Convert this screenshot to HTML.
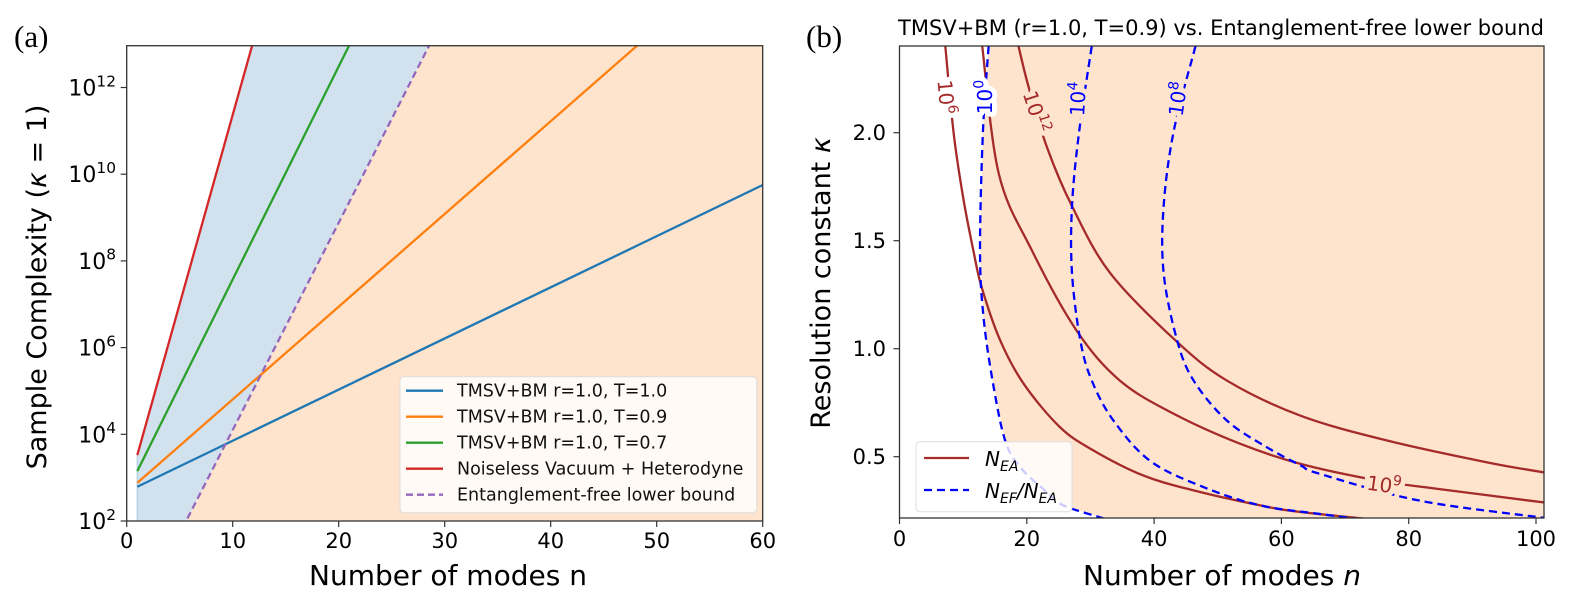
<!DOCTYPE html>
<html><head><meta charset="utf-8"><style>
html,body{margin:0;padding:0;background:#fff;overflow:hidden;width:1579px;height:614px}
svg{display:block;position:absolute;left:0;top:0}
svg text{font-family:"DejaVu Sans","Liberation Sans",sans-serif}
</style></head><body>
<svg id="fig" width="1579" height="614" viewBox="0 0 1579 614" xmlns="http://www.w3.org/2000/svg">
<defs>
<clipPath id="clipA"><rect x="126.7" y="45.7" width="636" height="475.3"/></clipPath>
<clipPath id="clipB"><rect x="899.5" y="46" width="644.5" height="472"/></clipPath>
</defs>
<g id="panelA"></g>
<g id="panelB"></g>
</svg>
<script>
// ---------- Panel (a) data ----------
const aXTicks = [0,10,20,30,40,50,60];
const aYTicks = [2,4,6,8,10,12];
const blueN = [1,60];        const blueLog = [2.79,9.75];
const orangeN = [1,60];      const orangeLog = [2.88,15.5];
const greenN = [1,30];       const greenLog = [3.15,17.4];
const redN = [1,16];         const redLog = [3.52,16.6];
const purpleN = [1,10,20,30]; const purpleLog = [-0.2,4.10,8.88,13.67];
const legendA = ["TMSV+BM r=1.0, T=1.0","TMSV+BM r=1.0, T=0.9","TMSV+BM r=1.0, T=0.7","Noiseless Vacuum + Heterodyne","Entanglement-free lower bound"];

// ---------- Panel (b) data ----------
const bXTicks = [0,20,40,60,80,100];
const bYTicks = [0.5,1.0,1.5,2.0];
const nea6N = [7.2,8.5,10.0,11.6,12.9,15.8,19.5,25.2,30.4,38.3,46.2,56.6,63.0,77.6];
const nea6K = [2.4,2.0,1.7,1.455,1.285,1.04,0.838,0.637,0.53,0.413,0.344,0.275,0.244,0.2];
const nea9N = [13.0,15.6,20.8,27.8,34.6,43.0,53.5,63.0,75.1,83.8,101.3];
const nea9K = [2.4,1.81,1.455,1.085,0.853,0.70,0.56,0.467,0.39,0.354,0.288];
const nea12N = [18.7,20.3,23.2,27.1,33.1,43.3,51.4,63.0,76.6,92.3,101.3];
const nea12K = [2.4,2.21,1.93,1.66,1.35,1.04,0.853,0.69,0.575,0.474,0.427];
const r0N = [14.0,13.1,12.65,13.2,14.7,16.6,19.0,23.0,25.7,32.0];
const r0K = [2.4,2.0,1.455,1.146,0.838,0.575,0.45,0.34,0.275,0.215];
const r4N = [30.2,28.2,27.1,27.1,28.4,30.2,33.6,39.4,47.7,56.6,66.0,78.0];
const r4K = [2.4,2.0,1.66,1.35,1.04,0.853,0.668,0.48,0.36,0.275,0.235,0.19];
const r8N = [46.5,43.1,41.5,41.5,43.6,46.2,51.4,57.7,63.0,66.1,81.8,101.3];
const r8K = [2.4,2.01,1.66,1.35,1.04,0.853,0.668,0.544,0.46,0.42,0.296,0.217];

const NS="http://www.w3.org/2000/svg";
function mk(parent,tag,attrs,text){const e=document.createElementNS(NS,tag);for(const k in attrs)e.setAttribute(k,attrs[k]);if(text!==undefined)e.textContent=text;parent.appendChild(e);return e;}

const ax=n=>126.7+n*10.6, ay=l=>521-(l-2)*43.35;
const bx=n=>899.5+n*6.365, by=k=>348.7-(k-1.0)*216;

function smooth(pts){ // uniform catmull-rom
  let d=`M${pts[0][0]},${pts[0][1]}`;
  for(let i=0;i<pts.length-1;i++){
    const p1=pts[i],p2=pts[i+1];
    const p0=pts[i-1]||p1, p3=pts[i+2]||p2;
    const c1=[p1[0]+(p2[0]-p0[0])/6,p1[1]+(p2[1]-p0[1])/6];
    const c2=[p2[0]-(p3[0]-p1[0])/6,p2[1]-(p3[1]-p1[1])/6];
    d+=` C${c1[0]},${c1[1]} ${c2[0]},${c2[1]} ${p2[0]},${p2[1]}`;
  }
  return d;
}
function sup(parent,x,y,base,exp,size,anchor,fill,extra){
  const t=mk(parent,'text',Object.assign({x:x,y:y,'font-size':size,'text-anchor':anchor||'middle',fill:fill||'#000'},extra||{}));
  mk(t,'tspan',{},base);
  mk(t,'tspan',{dy:-size*0.42,'font-size':size*0.7},exp);
  return t;
}

// ================= Panel A =================
const A=document.getElementById('panelA');
const gA=mk(A,'g',{'clip-path':'url(#clipA)'});
let op=purpleN.map((n,i)=>[ax(n),ay(purpleLog[i])]);
op.push([ax(60),ay(purpleLog[purpleLog.length-1])],[ax(60),ay(-1)],[ax(1),ay(-1)]);
const of=mk(gA,'polygon',{points:op.map(p=>p.join(',')).join(' '),fill:'#fee4cd'});


let bp=redN.map((n,i)=>[ax(n),ay(redLog[i])]);
for(let i=purpleN.length-1;i>=0;i--)bp.push([ax(purpleN[i]),ay(purpleLog[i])]);
const bf=mk(gA,'polygon',{points:bp.map(p=>p.join(',')).join(' '),fill:'#d1e2ee'});


mk(gA,'line',{x1:ax(1),y1:ay(2),x2:ax(1),y2:ay(redLog[0]),stroke:'#b9d3e8','stroke-width':1.5});
const seriesA=[[blueN,blueLog,'#1f77b4','line-t-1-0',''],[orangeN,orangeLog,'#ff7f0e','line-t-0-9',''],[greenN,greenLog,'#2ca02c','line-t-0-7',''],[redN,redLog,'#d62728','line-noiseless-heterodyne',''],[purpleN,purpleLog,'#9467bd','line-entanglement-free-bound','7,4']];
seriesA.forEach(s=>{
  const p=mk(gA,'polyline',{points:s[0].map((n,i)=>ax(n)+','+ay(s[1][i])).join(' '),fill:'none',stroke:s[2],'stroke-width':2.3,'stroke-dasharray':s[4]||'none'});
  
  
});
mk(A,'rect',{x:126.7,y:45.7,width:636,height:475.3,fill:'none',stroke:'#333','stroke-width':1.3});
aXTicks.forEach(v=>{
  mk(A,'line',{x1:ax(v),y1:521,x2:ax(v),y2:527,stroke:'#333','stroke-width':1.2});
  const t=mk(A,'text',{x:ax(v),y:548,'font-size':21,'text-anchor':'middle'},String(v));
  
  
});
aYTicks.forEach(v=>{
  mk(A,'line',{x1:120.7,y1:ay(v),x2:126.7,y2:ay(v),stroke:'#333','stroke-width':1.2});
  const t=sup(A,116,ay(v)+8,'10',String(v),22,'end');
  
  
});
const lgA=mk(A,'g',{});


mk(lgA,'rect',{x:400,y:376.7,width:356.7,height:136,rx:4,fill:'#fffaf5',stroke:'#ddd','stroke-width':1});
legendA.forEach((lab,i)=>{
  const y=390.7+i*26;
  const s=seriesA[i];
  mk(lgA,'line',{x1:406,y1:y,x2:443,y2:y,stroke:s[2],'stroke-width':2.3,'stroke-dasharray':s[4]||'none'});
  const t=mk(lgA,'text',{x:457,y:y+6,'font-size':17.5,fill:'#111'},lab);
  
  
});
let t;
t=mk(A,'text',{x:448,y:585,'font-size':28,'text-anchor':'middle'},'Number of modes n');

t=mk(A,'text',{x:0,y:0,'font-size':27,'text-anchor':'middle',transform:'translate(46,287) rotate(-90)'});
mk(t,'tspan',{},'Sample Complexity (');mk(t,'tspan',{'font-style':'italic'},'κ');mk(t,'tspan',{},' = 1)');

t=mk(A,'text',{x:14,y:47,'font-size':31,style:'font-family:"Liberation Serif",serif'},'(a)');


// ================= Panel B =================
const B=document.getElementById('panelB');
const gB=mk(B,'g',{'clip-path':'url(#clipB)'});
let fp=r0N.map((n,i)=>[bx(n),by(r0K[i])]);
fp.push([bx(40),by(0.1)],[bx(110),by(0.1)],[bx(110),by(2.5)]);
const ff=mk(gB,'polygon',{points:fp.map(p=>p.join(',')).join(' '),fill:'#fee4cd'});


const contours=[[nea6N,nea6K,'#a52a2a','none','contour-nea-1e6'],[nea9N,nea9K,'#a52a2a','none','contour-nea-1e9'],[nea12N,nea12K,'#a52a2a','none','contour-nea-1e12'],[r0N,r0K,'#0000ff','8,5','contour-ratio-1e0'],[r4N,r4K,'#0000ff','8,5','contour-ratio-1e4'],[r8N,r8K,'#0000ff','8,5','contour-ratio-1e8']];
contours.forEach(c=>{
  const p=mk(gB,'path',{d:smooth(c[0].map((n,i)=>[bx(n),by(c[1][i])])),fill:'none',stroke:c[2],'stroke-width':2.3,'stroke-dasharray':c[3]});
  
  
});
const cl=[[946,97,'6','#a52a2a',85,'#fff'],[985,97,'0','#0000ff',-90,'#fff'],[1036,112,'12','#a52a2a',72,'#fee4cd'],[1078,99,'4','#0000ff',-87,'#fee4cd'],[1178,99,'8','#0000ff',-82,'#fee4cd'],[1384,485,'9','#a52a2a',8,'#fee4cd']];
cl.forEach(c=>{
  const g=mk(B,'g',{transform:`translate(${c[0]},${c[1]}) rotate(${c[4]})`});
  sup(g,0,7,'10',c[2],20,'middle',c[5],{stroke:c[5],'stroke-width':10,'stroke-linejoin':'round'});
  const tt=sup(g,0,7,'10',c[2],20,'middle',c[3]);
  
  
});
mk(B,'rect',{x:899.5,y:46,width:644.5,height:472,fill:'none',stroke:'#333','stroke-width':1.3});
bXTicks.forEach(v=>{
  mk(B,'line',{x1:bx(v),y1:518,x2:bx(v),y2:524,stroke:'#333','stroke-width':1.2});
  const t=mk(B,'text',{x:bx(v),y:546,'font-size':21,'text-anchor':'middle'},String(v));
  
  
});
bYTicks.forEach(v=>{
  mk(B,'line',{x1:893.5,y1:by(v),x2:899.5,y2:by(v),stroke:'#333','stroke-width':1.2});
  const t=mk(B,'text',{x:886,y:by(v)+7.5,'font-size':21,'text-anchor':'end'},v.toFixed(1));
  
  
});
const lgB=mk(B,'g',{});


mk(lgB,'rect',{x:916,y:441.7,width:156,height:70,rx:4,fill:'#fff',stroke:'#ddd','stroke-width':1,'fill-opacity':0.8});
mk(lgB,'line',{x1:924,y1:458,x2:969,y2:458,stroke:'#a52a2a','stroke-width':2.3});
mk(lgB,'line',{x1:924,y1:490,x2:969,y2:490,stroke:'#0000ff','stroke-width':2.3,'stroke-dasharray':'8,5'});
t=mk(lgB,'text',{x:985,y:466,'font-size':20,'font-style':'italic'});
mk(t,'tspan',{},'N');mk(t,'tspan',{dy:5,'font-size':14},'EA');

t=mk(lgB,'text',{x:985,y:498,'font-size':20,'font-style':'italic'});
mk(t,'tspan',{},'N');mk(t,'tspan',{dy:5,'font-size':14},'EF');mk(t,'tspan',{dy:-5},'/N');mk(t,'tspan',{dy:5,'font-size':14},'EA');

t=mk(B,'text',{x:1222,y:585,'font-size':28,'text-anchor':'middle'});
mk(t,'tspan',{},'Number of modes ');mk(t,'tspan',{'font-style':'italic'},'n');

t=mk(B,'text',{x:0,y:0,'font-size':27,'text-anchor':'middle',transform:'translate(830,283) rotate(-90)'});
mk(t,'tspan',{},'Resolution constant ');mk(t,'tspan',{'font-style':'italic'},'κ');

t=mk(B,'text',{x:1221,y:35,'font-size':21,'text-anchor':'middle'},'TMSV+BM (r=1.0, T=0.9) vs. Entanglement-free lower bound');

t=mk(B,'text',{x:806,y:47,'font-size':31,style:'font-family:"Liberation Serif",serif'},'(b)');

</script>
</body></html>
